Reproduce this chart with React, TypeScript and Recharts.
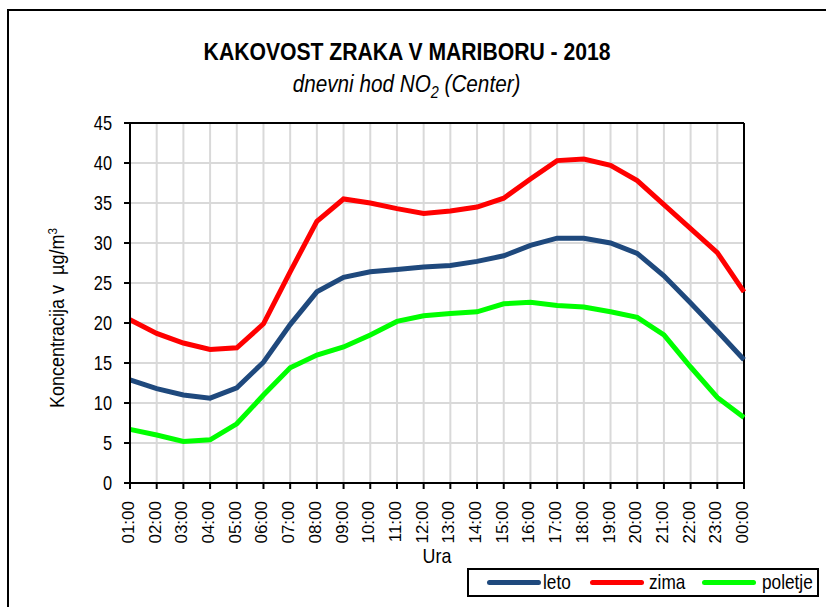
import React from "react";
import {
  LineChart,
  Line,
  XAxis,
  YAxis,
  CartesianGrid,
  ReferenceLine,
} from "recharts";

const hours = [
  "01:00", "02:00", "03:00", "04:00", "05:00", "06:00", "07:00", "08:00",
  "09:00", "10:00", "11:00", "12:00", "13:00", "14:00", "15:00", "16:00",
  "17:00", "18:00", "19:00", "20:00", "21:00", "22:00", "23:00", "00:00",
];

const leto = [
  12.9, 11.8, 11.0, 10.6, 11.9, 15.1, 19.8, 23.9, 25.7, 26.4, 26.7, 27.0,
  27.2, 27.7, 28.4, 29.7, 30.6, 30.6, 30.0, 28.7, 25.9, 22.5, 19.0, 15.4,
];

const zima = [
  20.4, 18.7, 17.5, 16.7, 16.9, 19.9, 26.4, 32.7, 35.5, 35.0, 34.3, 33.7,
  34.0, 34.5, 35.6, 38.0, 40.3, 40.5, 39.7, 37.8, 34.8, 31.8, 28.8, 23.9,
];

const poletje = [
  6.7, 6.0, 5.2, 5.4, 7.4, 11.0, 14.4, 16.0, 17.0, 18.5, 20.2, 20.9,
  21.2, 21.4, 22.4, 22.6, 22.2, 22.0, 21.4, 20.7, 18.5, 14.5, 10.7, 8.2,
];

const yTicks = [0, 5, 10, 15, 20, 25, 30, 35, 40, 45];

const data = hours.map((h, i) => ({
  hour: h,
  leto: leto[i],
  zima: zima[i],
  poletje: poletje[i],
}));

const FONT = '"Liberation Sans", Arial, sans-serif';

// narrow text (the original uses a condensed font)
const Narrow = ({ s, children }: { s: number; children: React.ReactNode }) => (
  <span style={{ display: "inline-block", transform: `scaleX(${s})`, whiteSpace: "nowrap" }}>
    {children}
  </span>
);

const XTick = (props: any) => {
  const { x, y, payload } = props;
  return (
    <text
      x={0}
      y={0}
      transform={`translate(${x + 4},${y + 10}) rotate(-90)`}
      textAnchor="end"
      fontSize={17}
      fontFamily={FONT}
      fill="#000"
    >
      {payload.value}
    </text>
  );
};

const YTick = (props: any) => {
  const { x, y, payload } = props;
  return (
    <text
      x={0}
      y={0}
      dy="0.36em"
      transform={`translate(${x - 10},${y}) scale(0.82,1)`}
      textAnchor="end"
      fontSize={20}
      fontFamily={FONT}
      fill="#000"
    >
      {payload.value}
    </text>
  );
};

const legendItems = [
  { name: "leto", color: "#1f497d" },
  { name: "zima", color: "#ff0000" },
  { name: "poletje", color: "#00ff00" },
];

export default function App() {
  return (
    <div
      style={{
        position: "fixed",
        left: 0,
        top: 0,
        width: 826,
        height: 607,
        background: "#fff",
        fontFamily: FONT,
        overflow: "hidden",
      }}
    >
      <div
        style={{
          position: "absolute",
          left: 7,
          top: 9,
          width: 900,
          height: 700,
          borderLeft: "2px solid #000",
          borderTop: "2px solid #000",
        }}
      />
      <div
        style={{
          position: "absolute",
          left: 0,
          width: 814,
          top: 38,
          textAlign: "center",
          fontWeight: "bold",
          fontSize: 23.5,
          lineHeight: "28px",
        }}
      >
        <Narrow s={0.9}>KAKOVOST ZRAKA V MARIBORU - 2018</Narrow>
      </div>
      <div
        style={{
          position: "absolute",
          left: 0,
          width: 814,
          top: 70,
          textAlign: "center",
          fontStyle: "italic",
          fontSize: 23,
          lineHeight: "28px",
        }}
      >
        <Narrow s={0.9}>
          dnevni hod NO<sub style={{ fontSize: 16 }}>2</sub> (Center)
        </Narrow>
      </div>
      <LineChart
        width={826}
        height={607}
        data={data}
        margin={{ top: 123, right: 82, bottom: 64, left: 70 }}
        style={{ position: "absolute", left: 0, top: 0 }}
      >
        <CartesianGrid stroke="#d9d9d9" strokeWidth={2} />
        <XAxis
          dataKey="hour"
          height={60}
          interval={0}
          tick={<XTick />}
          tickLine={{ stroke: "#000", strokeWidth: 2 }}
          tickSize={6}
          axisLine={{ stroke: "#000", strokeWidth: 2 }}
        />
        <YAxis
          width={60}
          domain={[0, 45]}
          ticks={yTicks}
          interval={0}
          tick={<YTick />}
          tickLine={{ stroke: "#000", strokeWidth: 2 }}
          tickSize={6}
          axisLine={{ stroke: "#000", strokeWidth: 2 }}
        />
        <ReferenceLine y={45} stroke="#000" strokeWidth={2} />
        <ReferenceLine x="00:00" stroke="#000" strokeWidth={2} />
        <Line
          dataKey="leto"
          stroke="#1f497d"
          strokeWidth={5}
          dot={false}
          isAnimationActive={false}
        />
        <Line
          dataKey="zima"
          stroke="#ff0000"
          strokeWidth={5}
          dot={false}
          isAnimationActive={false}
        />
        <Line
          dataKey="poletje"
          stroke="#00ff00"
          strokeWidth={5}
          dot={false}
          isAnimationActive={false}
        />
      </LineChart>
      <div
        style={{
          position: "absolute",
          left: 437,
          top: 556,
          transform: "translate(-50%, -50%)",
          fontSize: 21,
        }}
      >
        <Narrow s={0.85}>Ura</Narrow>
      </div>
      <div
        style={{
          position: "absolute",
          left: 57,
          top: 318,
          transform: "translate(-50%, -50%) rotate(-90deg)",
          whiteSpace: "nowrap",
          fontSize: 20,
        }}
      >
        <Narrow s={0.9}>
          Koncentracija v &nbsp;µg/m<sup style={{ fontSize: 13 }}>3</sup>
        </Narrow>
      </div>
      <div
        style={{
          position: "absolute",
          left: 467,
          top: 568,
          width: 352,
          height: 29,
          border: "2px solid #000",
          boxSizing: "border-box",
          fontSize: 21,
        }}
      >
        {legendItems.map((it, i) => (
          <React.Fragment key={it.name}>
            <div
              style={{
                position: "absolute",
                left: [18, 121, 233][i],
                top: 10,
                width: 54,
                height: 5,
                borderRadius: 3,
                background: it.color,
              }}
            />
            <div
              style={{
                position: "absolute",
                left: [74, 180, 293][i],
                top: -1,
                lineHeight: "26px",
                transformOrigin: "left center",
                transform: "scaleX(0.82)",
              }}
            >
              {it.name}
            </div>
          </React.Fragment>
        ))}
      </div>
    </div>
  );
}
